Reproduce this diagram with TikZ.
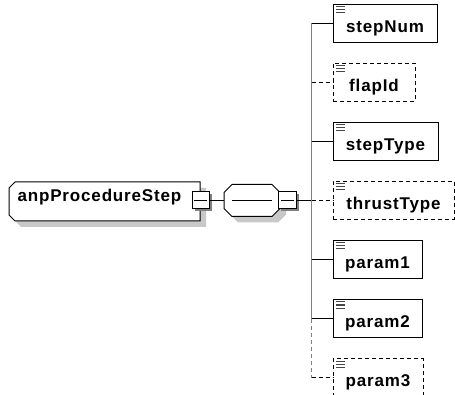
\documentclass[tikz,border=0pt]{standalone}
\usepackage{fontspec}
\setmainfont{Liberation Sans}
\newfontfamily\diagfont{Liberation Sans}[LetterSpace=5]
\usetikzlibrary{shadows}

\definecolor{shadowgray}{RGB}{200,200,200}
\definecolor{btnshadow}{RGB}{128,128,128}
\definecolor{treegray}{RGB}{128,128,128}
\definecolor{icongray}{RGB}{70,70,70}

\begin{document}
\begin{tikzpicture}[x=1pt,y=-1pt,
  every node/.style={inner sep=0pt, outer sep=0pt},
  lbl/.style={font=\diagfont\bfseries\fontsize{17}{20}\selectfont},
  wire/.style={draw=black, line width=1pt},
  optwire/.style={wire, dash pattern=on 4pt off 3pt},
  outline/.style={draw=black, line width=1pt, fill=white},
  shade/.style={fill=shadowgray},
  childbox/.style={rectangle, draw=black, line width=1pt, fill=white,
    anchor=north west, minimum height=38pt,
    text height=21.6pt, text depth=3pt, lbl},
  optbox/.style={childbox, dash pattern=on 4pt off 3pt},
  btn/.style={rectangle, draw=black, line width=1pt, fill=white,
    minimum width=17pt, minimum height=17pt,
    general shadow={shadow xshift=2.5pt, shadow yshift=-2.5pt, fill=btnshadow}},
]
\useasboundingbox (0,0) rectangle (455,395);

% root element: box chamfered on the left, with drop shadow
\def\rootoutline{(15,182) -- (200,182) -- (200,221) -- (15,221) -- (9,215) -- (9,188) -- cycle}
\begin{scope}[shift={(6,6)}]
  \path[shade] \rootoutline;
\end{scope}
\path[outline] \rootoutline;
\node[minimum width=191pt, minimum height=39pt] (root) at (104.5,201.5) {};
\node[lbl, anchor=base west] (rootlabel) at (17.5,201.7) {anpProcedureStep};

% sequence compositor: octagon with drop shadow
\def\seqoutline{(232,184.5) -- (272,184.5) -- (280,192.5) -- (280,208.5) -- (272,216.5) -- (232,216.5) -- (224,208.5) -- (224,192.5) -- cycle}
\begin{scope}[shift={(6,6)}]
  \path[shade] \seqoutline;
\end{scope}
\path[outline] \seqoutline;
\node[minimum width=56pt, minimum height=32pt] (seq) at (252,200.5) {};
\draw[wire] ([xshift=8pt]seq.west) -- ([xshift=-8pt]seq.east);

% expand/collapse buttons
\node[btn] (rootbtn) at (200.5,200.5) {};
\draw[wire] ([xshift=-6.5pt]rootbtn.center) -- ([xshift=6.5pt]rootbtn.center);
\node[btn, minimum width=18pt] (seqbtn) at (287.5,200.5) {};
\draw[wire] ([xshift=-6.5pt]seqbtn.center) -- ([xshift=6.5pt]seqbtn.center);

% child elements
\node[childbox, minimum width=104pt] (stepNum)    at (333,4.5)   {stepNum};
\node[optbox,   minimum width=82pt]  (flapId)     at (333,63.5)  {flapId};
\node[childbox, minimum width=105pt] (stepType)   at (333,122.5) {stepType};
\node[optbox,   minimum width=121pt] (thrustType) at (333,181.5) {thrustType};
\node[childbox, minimum width=89pt]  (param1)     at (333,240.5) {param1};
\node[childbox, minimum width=89pt]  (param2)     at (333,299.5) {param2};
\node[optbox,   minimum width=90pt]  (param3)     at (333,358.5) {param3};

% annotation icons
\foreach \n in {stepNum,flapId,stepType,thrustType,param1,param2,param3}
  \foreach \dy in {2.5,5.5,8.5}
    \draw[icongray, line width=1pt] ([xshift=3pt,yshift=-\dy pt]\n.north west) -- ++(9,0);

% connectors
\coordinate (trunk) at (311.5,200.5);
\draw[wire] (rootbtn.east) -- (seq.west);
\draw[wire] (seqbtn.east) -- (trunk);
\draw[treegray, line width=1.5pt] (trunk |- stepNum.west) -- (trunk |- param2.west);
\draw[treegray, line width=1.5pt, dash pattern=on 4pt off 3pt] (trunk |- param2.west) -- (trunk |- param3.west);
\foreach \n in {stepNum,stepType,param1,param2}
  \draw[wire] (trunk |- \n.west) -- (\n.west);
\foreach \n in {flapId,thrustType,param3}
  \draw[optwire] (trunk |- \n.west) -- (\n.west);
\end{tikzpicture}
\end{document}
